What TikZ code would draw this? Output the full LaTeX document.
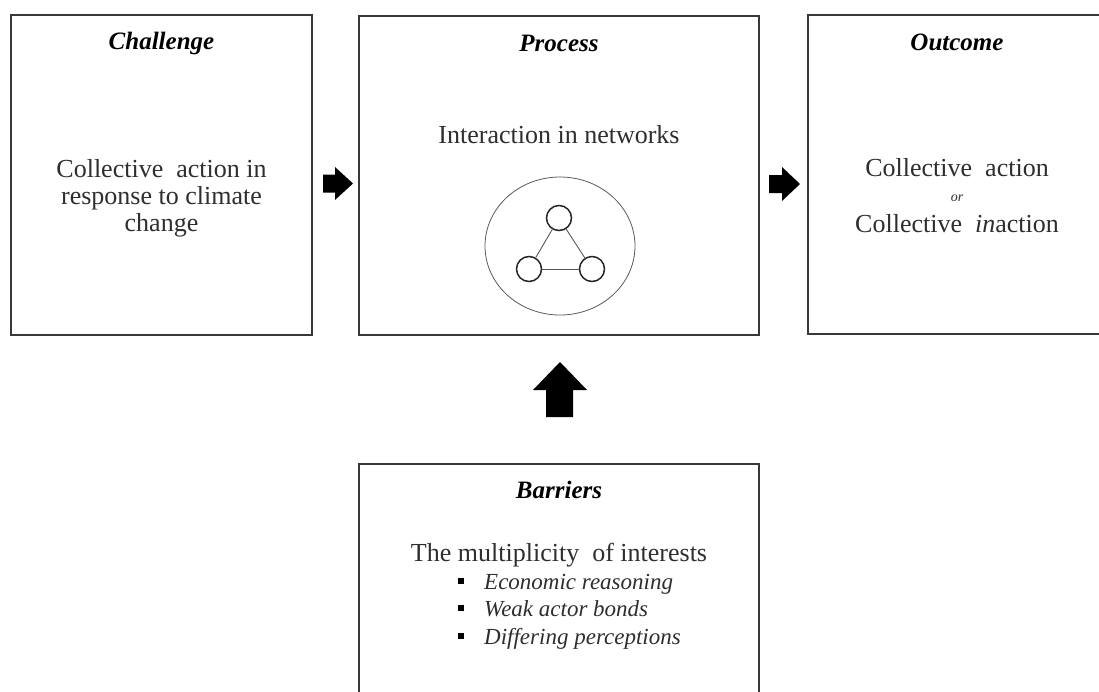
\documentclass[tikz,border=0pt]{standalone}
\usepackage{fontspec}
\setmainfont{Liberation Serif}
\usetikzlibrary{calc,shapes.geometric}
\definecolor{boxline}{gray}{0.22}
\definecolor{txt}{gray}{0.18}
\definecolor{netline}{gray}{0.35}
\begin{document}
\begin{tikzpicture}[x=1pt,y=-1pt,
  panel/.style={draw=boxline, line width=1.6pt, inner sep=0pt},
  title/.style={font=\fontsize{25}{28}\selectfont\bfseries\itshape, text=black, inner sep=0pt},
  body/.style={font=\fontsize{26}{27}\selectfont, text=txt, align=center, inner sep=0pt},
  item/.style={font=\fontsize{23}{27}\selectfont\itshape, text=txt, inner sep=0pt, anchor=base west},
  bulletsq/.style={fill=black, minimum size=6pt, inner sep=0pt},
  blockarrow/.style={fill=black, draw=none},
  netnode/.style={circle, draw=black!85, line width=1.5pt, minimum size=25pt, inner sep=0pt},
  netedge/.style={draw=netline, line width=0.9pt}
]
\useasboundingbox (0,0) rectangle (1099,691);

% panels
\node[panel, minimum width=301pt, minimum height=320pt] (ch) at (161.5,175) {};
\node[panel, minimum width=400pt, minimum height=319pt] (pr) at (559,175.5) {};
\node[panel, minimum width=298pt, minimum height=319pt] (oc) at (957,174.5) {};
\node[panel, minimum width=400pt, minimum height=260pt] (ba) at (559,594) {};

% titles
\node[title] (cht) at (161.5,43) {Challenge};
\node[title] (prt) at (559,43) {Process};
\node[title] (oct) at (957,42) {Outcome};
\node[title] (bat) at (559,490) {Barriers};

% body texts
\node[body] (chb) at (161.5,198.5) {Collective\ \ action in\\response to climate\\change};
\node[body] (prb) at (559,135) {Interaction in networks};
\node[body, anchor=base] (oc1) at (957,176) {Collective\ \ action};
\node[font=\fontsize{14}{14}\selectfont\itshape, text=txt, inner sep=0pt, anchor=base] (oc2) at (957,201) {or};
\node[body, anchor=base] (oc3) at (957,232) {Collective\ \ \textit{in}action};
\node[body, anchor=base] (bab) at (559,561) {The multiplicity\ \ of interests};

% bullet list
\node[bulletsq] (b1) at (461,581) {};
\node[bulletsq] (b2) at (461,608) {};
\node[bulletsq] (b3) at (461,636) {};
\node[item] (i1) at (484,589) {Economic reasoning};
\node[item] (i2) at (484,616) {Weak actor bonds};
\node[item] (i3) at (484,644) {Differing perceptions};

% network
\node[ellipse, draw=netline, line width=0.8pt, minimum width=150pt, minimum height=138pt, inner sep=0pt] (net) at (560,246) {};
\node[netnode] (n1) at (559,218) {};
\node[netnode] (n2) at (529,269) {};
\node[netnode] (n3) at (592,269) {};
\path[netedge] (n1) -- (n2);
\path[netedge] (n1) -- (n3);
\path[netedge] (n2) -- (n3);

% block arrows
\fill[blockarrow] (323,174.5) -- (335,174.5) -- (335,167) -- (353,183.5) -- (335,200) -- (335,192.5) -- (323,192.5) -- cycle;
\fill[blockarrow] (769,175) -- (782,175) -- (782,167) -- (800,184) -- (782,201) -- (782,193) -- (769,193) -- cycle;
\fill[blockarrow] (546,417) -- (546,390) -- (533,390) -- (560,362) -- (587,390) -- (573,390) -- (573,417) -- cycle;
\end{tikzpicture}
\end{document}
